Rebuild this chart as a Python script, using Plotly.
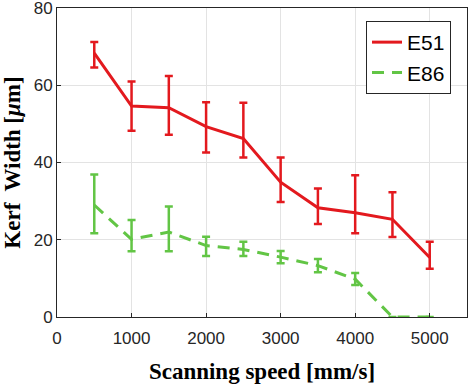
import plotly.graph_objects as go

speed = [500, 1000, 1500, 2000, 2500, 3000, 3500, 4000, 4500, 5000]
e51 = [68.3, 54.6, 54.2, 49.3, 46.2, 34.9, 28.3, 27.0, 25.3, 15.4]
e51_plus = [2.9, 6.4, 8.2, 6.3, 9.3, 6.4, 5.0, 9.7, 7.0, 4.1]
e51_minus = [3.7, 6.4, 7.0, 6.7, 4.9, 5.1, 4.2, 5.3, 4.6, 2.9]
e86 = [29.0, 20.1, 22.0, 18.5, 17.5, 15.5, 13.3, 9.8, 0.0, 0.0]
e86_plus = [7.9, 5.0, 6.6, 2.3, 2.0, 1.6, 1.7, 1.6, 0.0, 0.0]
e86_minus = [7.3, 3.1, 5.0, 2.7, 1.7, 1.6, 1.7, 1.5, 0.0, 0.0]

x_ticks = [0, 1000, 2000, 3000, 4000, 5000]
y_ticks = [0, 20, 40, 60, 80]

red = "#E3191E"
green = "#62C545"

fig = go.Figure()
fig.add_trace(go.Scatter(
    x=speed, y=e51, mode="lines", name="E51",
    line=dict(color=red, width=3),
    error_y=dict(type="data", symmetric=False, array=e51_plus, arrayminus=e51_minus,
                 color=red, thickness=2.5, width=4),
))
fig.add_trace(go.Scatter(
    x=speed, y=e86, mode="lines", name="E86",
    line=dict(color=green, width=3, dash="12px,8px"),
    error_y=dict(type="data", symmetric=False, array=e86_plus, arrayminus=e86_minus,
                 color=green, thickness=2.5, width=4),
))

axis_common = dict(
    showline=True, linecolor="#262626", linewidth=1, mirror=True,
    showgrid=True, gridcolor="#E3E3E3", gridwidth=1,
    ticks="inside", ticklen=4, tickcolor="#262626",
    zeroline=False, automargin=False, ticklabeloverflow="allow",
    tickfont=dict(family="Liberation Sans, Arial", size=17, color="#262626"),
)

fig.update_layout(
    width=473, height=384,
    margin=dict(l=57, r=6, t=8, b=67),
    paper_bgcolor="white", plot_bgcolor="white",
    xaxis=dict(range=[0, 5500], tickvals=x_ticks, ticklabelstandoff=6,
               title=dict(text="<b>Scanning speed [mm/s]</b>", standoff=16,
                          font=dict(family="Liberation Serif, Times New Roman", size=23, color="black")),
               **axis_common),
    yaxis=dict(range=[0, 80], tickvals=y_ticks,
               title=dict(text="<b>Kerf  Width [<i>μ</i>m]</b>", standoff=9,
                          font=dict(family="Liberation Serif, Times New Roman", size=23, color="black")),
               **axis_common),
    legend=dict(x=0.961, y=0.958, xanchor="right", yanchor="top",
                bgcolor="white", bordercolor="#262626", borderwidth=1,
                font=dict(family="Liberation Sans, Arial", size=21, color="black"),
                tracegroupgap=0),
    showlegend=True,
)

fig.write_html("out.html", config={"displayModeBar": False},
               post_script="document.body.style.margin='0';")
